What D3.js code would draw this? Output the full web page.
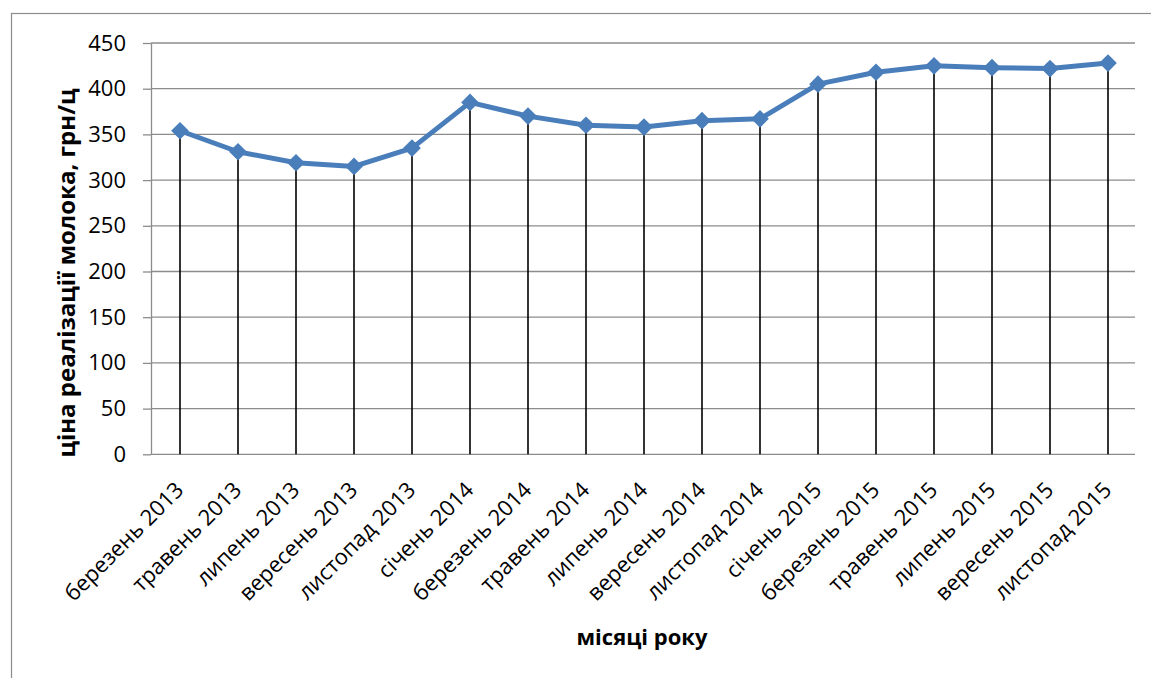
<!DOCTYPE html>
<html>
<head>
<meta charset="utf-8">
<script src="https://cdn.jsdelivr.net/npm/d3@7"></script>
<style>
  html, body { margin: 0; padding: 0; background: #fff; }
  svg { display: block; }
</style>
</head>
<body>
<svg id="chart" width="1151" height="678"></svg>
<script>
// Місяці спостереження
const months = [
  "березень 2013", "травень 2013", "липень 2013", "вересень 2013", "листопад 2013",
  "січень 2014", "березень 2014", "травень 2014", "липень 2014", "вересень 2014", "листопад 2014",
  "січень 2015", "березень 2015", "травень 2015", "липень 2015", "вересень 2015", "листопад 2015"
];
// Ціна реалізації молока, грн/ц
const prices = [354, 331, 319, 315, 335, 385, 370, 360, 358, 365, 367, 405, 418, 425, 423, 422, 428];
// Поділки вертикальної осі
const yTicks = [0, 50, 100, 150, 200, 250, 300, 350, 400, 450];

const yTitle = "ціна реалізації молока, грн/ц";
const xTitle = "місяці року";

const svg = d3.select("#chart");
const plot = { left: 151, right: 1137, top: 43, bottom: 454.3 };
const blue = "#4A7EBB";
const gridColor = "#8C8C8C";
const font = "'Open Sans', 'Noto Sans', sans-serif";

// outer chart frame
svg.append("rect")
  .attr("x", 11.5).attr("y", 13.5)
  .attr("width", 1200).attr("height", 700)
  .attr("fill", "none").attr("stroke", "#8C8C8C").attr("stroke-width", 1.2);

const x = d3.scaleBand().domain(months).range([plot.left, plot.right]).padding(0);
const y = d3.scaleLinear().domain([0, 450]).range([plot.bottom, plot.top]);
const cx = d => x(d) + x.bandwidth() / 2;

// horizontal gridlines
svg.append("g").selectAll("line").data(yTicks.filter(t => t > 0)).join("line")
  .attr("x1", plot.left).attr("x2", plot.right - 2)
  .attr("y1", d => y(d)).attr("y2", d => y(d))
  .attr("stroke", gridColor).attr("stroke-width", 1.3);

// value axis
const yAxis = svg.append("g")
  .attr("transform", `translate(${plot.left},0)`)
  .call(d3.axisLeft(y).tickValues(yTicks).tickSizeInner(8).tickSizeOuter(0).tickPadding(17));
yAxis.select(".domain").attr("stroke", gridColor).attr("stroke-width", 1.3);
yAxis.selectAll(".tick line").attr("stroke", gridColor).attr("stroke-width", 1.3);
yAxis.selectAll(".tick text")
  .attr("font-family", font).attr("font-size", 22).attr("fill", "#000");

// category axis line
svg.append("line")
  .attr("x1", plot.left).attr("x2", plot.right - 2)
  .attr("y1", plot.bottom).attr("y2", plot.bottom)
  .attr("stroke", gridColor).attr("stroke-width", 1.3);

// drop lines from each point to the axis
svg.append("g").selectAll("line").data(months).join("line")
  .attr("x1", d => cx(d)).attr("x2", d => cx(d))
  .attr("y1", (d, i) => y(prices[i])).attr("y2", plot.bottom)
  .attr("stroke", "#000").attr("stroke-width", 1.6);

// price line
const line = d3.line().x(d => cx(d.m)).y(d => y(d.v));
const pts = months.map((m, i) => ({ m, v: prices[i] }));
svg.append("path").datum(pts)
  .attr("d", line)
  .attr("fill", "none").attr("stroke", blue)
  .attr("stroke-width", 5).attr("stroke-linejoin", "round");

// diamond markers
const diamond = d3.symbol().type(d3.symbolDiamond2).size(200);
svg.append("g").selectAll("path").data(pts).join("path")
  .attr("d", diamond)
  .attr("transform", d => `translate(${cx(d.m)},${y(d.v)})`)
  .attr("fill", blue);

// category labels
svg.append("g").selectAll("text").data(months).join("text")
  .attr("transform", d => `translate(${cx(d) + 5},${plot.bottom + 37}) rotate(-45)`)
  .attr("text-anchor", "end")
  .attr("font-family", font).attr("font-size", 22).attr("fill", "#000")
  .text(d => d);

// axis titles
svg.append("text")
  .attr("x", 642).attr("y", 645)
  .attr("text-anchor", "middle")
  .attr("font-family", font).attr("font-size", 22).attr("font-weight", "bold")
  .text(xTitle);

svg.append("text")
  .attr("transform", "translate(75,273) rotate(-90)")
  .attr("text-anchor", "middle")
  .attr("font-family", font).attr("font-size", 24).attr("font-weight", "bold")
  .text(yTitle);
</script>
</body>
</html>
